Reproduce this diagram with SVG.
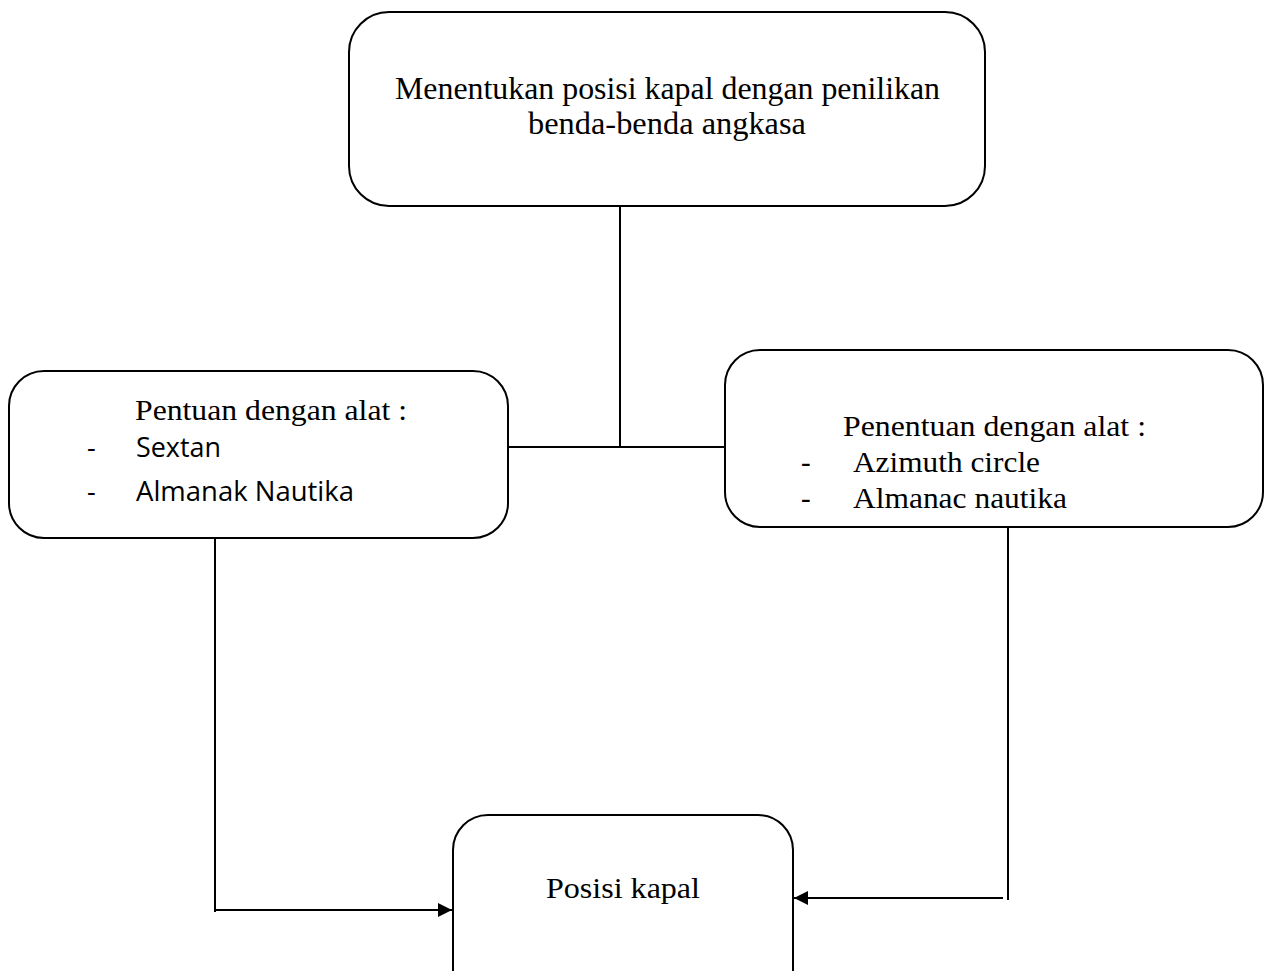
<svg xmlns="http://www.w3.org/2000/svg" width="1270" height="971" viewBox="0 0 1270 971">
<style>
.box{fill:#fff;stroke:#000;stroke-width:2}
.ln{fill:none;stroke:#000;stroke-width:2}
.serif{font-family:"Liberation Serif","Times New Roman",serif;font-size:29px;fill:#000}
.big{font-size:31px}
.mid{font-size:30px}
.sans{font-family:"Open Sans","Liberation Sans",sans-serif;font-size:27px;fill:#000}
</style>
<defs>
<marker id="arr" viewBox="0 0 10 10" refX="10" refY="5" markerWidth="7" markerHeight="7" markerUnits="strokeWidth" orient="auto">
<path d="M0,0 L10,5 L0,10 Z" fill="#000"/>
</marker>
</defs>
<g id="connectors">
<path class="ln" d="M620,206 V447"/>
<path class="ln" d="M509,447 H726"/>
<path class="ln" d="M215,538 V912"/>
<path class="ln" d="M215,910 H452" marker-end="url(#arr)"/>
<path class="ln" d="M1008,527 V900"/>
<path class="ln" d="M1003,898 H794" marker-end="url(#arr)"/>
</g>
<g id="node-top">
<rect class="box" x="349" y="12" width="636" height="194" rx="40"/>
<text class="serif big" x="395" y="99" textLength="545" lengthAdjust="spacingAndGlyphs">Menentukan posisi kapal dengan penilikan</text>
<text class="serif big" x="528" y="134" textLength="278" lengthAdjust="spacingAndGlyphs">benda-benda angkasa</text>
</g>
<g id="node-left">
<rect class="box" x="9" y="371" width="499" height="167" rx="35"/>
<text class="serif" x="135" y="420" textLength="272" lengthAdjust="spacingAndGlyphs">Pentuan dengan alat :</text>
<text class="sans" x="87" y="457">-</text>
<text class="sans" x="136" y="457" textLength="85" lengthAdjust="spacingAndGlyphs">Sextan</text>
<text class="sans" x="87" y="501">-</text>
<text class="sans" x="136" y="501" textLength="218" lengthAdjust="spacingAndGlyphs">Almanak Nautika</text>
</g>
<g id="node-right">
<rect class="box" x="725" y="350" width="538" height="177" rx="35"/>
<text class="serif" x="843" y="436" textLength="303" lengthAdjust="spacingAndGlyphs">Penentuan dengan alat :</text>
<text class="serif" x="801" y="472">-</text>
<text class="serif" x="853" y="472" textLength="187" lengthAdjust="spacingAndGlyphs">Azimuth circle</text>
<text class="serif" x="801" y="508">-</text>
<text class="serif" x="853" y="508" textLength="214" lengthAdjust="spacingAndGlyphs">Almanac nautika</text>
</g>
<g id="node-bottom">
<rect class="box" x="453" y="815" width="340" height="200" rx="35"/>
<text class="serif mid" x="546" y="898" textLength="154" lengthAdjust="spacingAndGlyphs">Posisi kapal</text>
</g>
</svg>
